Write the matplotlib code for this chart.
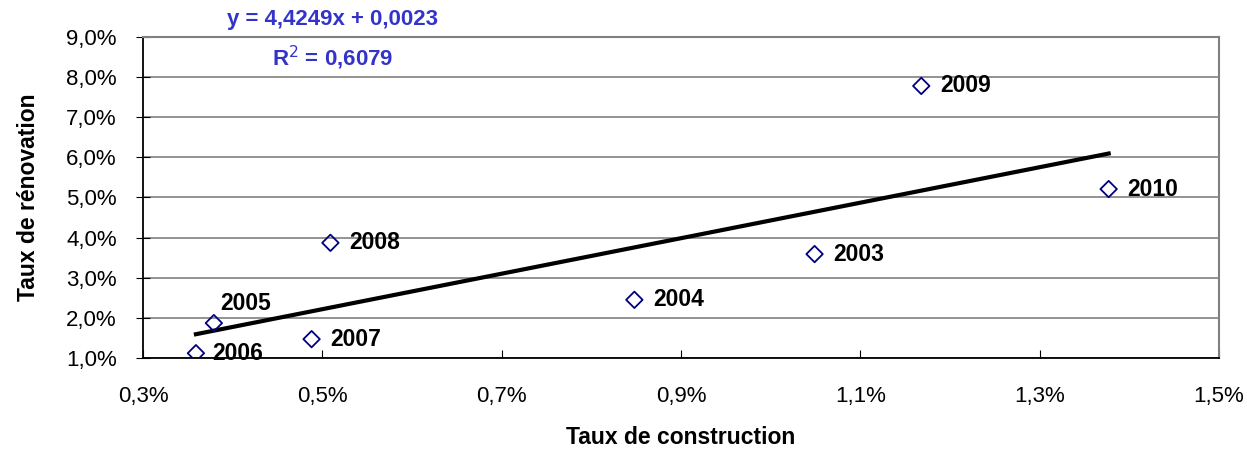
import matplotlib.pyplot as plt
import numpy as np
from matplotlib.ticker import FuncFormatter

plt.rcParams['font.family'] = ['Liberation Sans', 'DejaVu Sans']

# data (percent)
years = ['2003', '2004', '2005', '2006', '2007', '2008', '2009', '2010']
construction = [1.049, 0.848, 0.379, 0.359, 0.488, 0.509, 1.168, 1.377]
renovation = [3.59, 2.45, 1.87, 1.12, 1.47, 3.87, 7.78, 5.21]
label_offsets = {'2005': (6, 20), '2006': (16, 0)}

x = np.array(construction)
y = np.array(renovation)

fig = plt.figure(figsize=(12.47, 4.51), dpi=100)
ax = fig.add_axes([0.1147, 0.2062, 0.8628, 0.7118])

ax.grid(axis='y', color='#808080', linewidth=1.2)
ax.set_axisbelow(True)

ax.scatter(x, y, marker='D', s=70, facecolors='none', edgecolors='#000080',
           linewidths=1.3, zorder=3)

# linear trend
slope, inter = np.polyfit(x, y, 1)
xs = np.array([x.min(), x.max()])
ax.plot(xs, slope * xs + inter, color='black', linewidth=3, zorder=2)

for yr, xi, yi in zip(years, x, y):
    off = label_offsets.get(yr, (19, 0))
    ax.annotate(yr, (xi, yi), xytext=off, textcoords='offset pixels',
                ha='left', va='center', fontsize=16.5, fontweight='bold')

ax.text(0.176, 1.055, 'y = 4,4249x + 0,0023', transform=ax.transAxes,
        ha='center', va='center', color='#3333CC', fontsize=16, fontweight='bold')
ax.text(0.176, 0.935, 'R$^2$ = 0,6079', transform=ax.transAxes,
        ha='center', va='center', color='#3333CC', fontsize=16, fontweight='bold')

ax.set_xlim(0.3, 1.5)
ax.set_ylim(1.0, 9.0)
ax.set_xticks(np.arange(0.3, 1.51, 0.2))
ax.set_yticks(np.arange(1, 9.1, 1))
ax.xaxis.set_major_formatter(FuncFormatter(lambda v, p: f'{v:.1f}%'.replace('.', ',')))
ax.yaxis.set_major_formatter(FuncFormatter(lambda v, p: f'{v:.1f}%'.replace('.', ',')))
ax.tick_params(axis='x', direction='in', length=6, pad=20, labelsize=16)
ax.tick_params(axis='y', direction='inout', length=10, pad=14, labelsize=16)

for s in ['left', 'bottom']:
    ax.spines[s].set_color('black')
    ax.spines[s].set_linewidth(1.3)
for s in ['top', 'right']:
    ax.spines[s].set_color('#808080')
    ax.spines[s].set_linewidth(1.5)

ax.set_xlabel('Taux de construction', fontsize=16.5, fontweight='bold', labelpad=14)
ax.set_ylabel('Taux de rénovation', fontsize=16.5, fontweight='bold', labelpad=19)

fig.savefig('out.png', dpi=100)
